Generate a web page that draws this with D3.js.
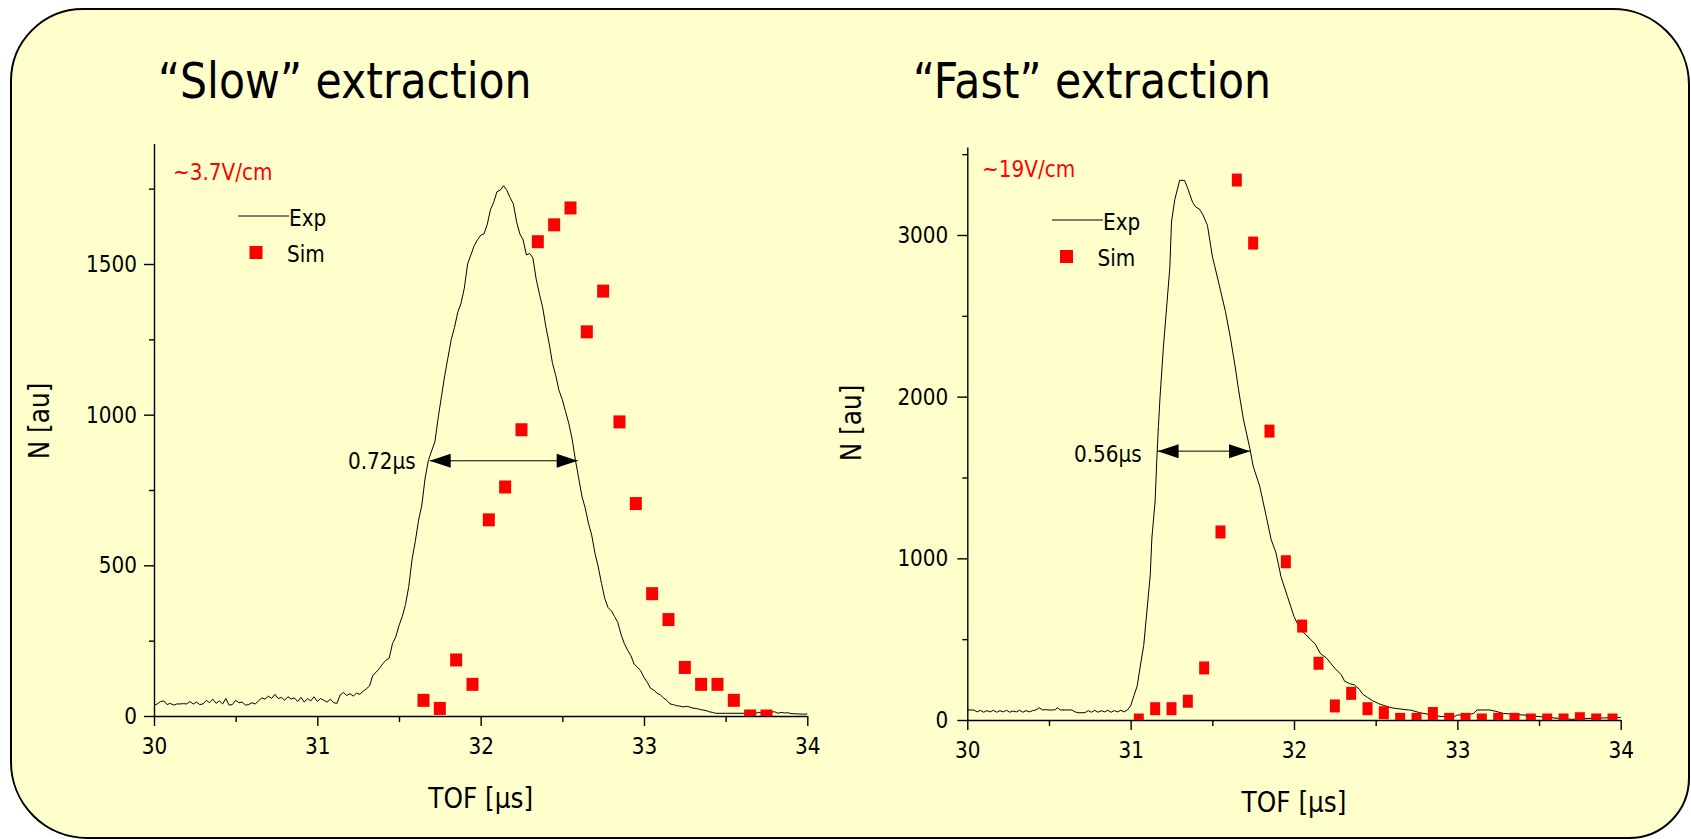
<!DOCTYPE html>
<html>
<head>
<meta charset="utf-8">
<script src="https://cdn.jsdelivr.net/npm/d3@7/dist/d3.min.js"></script>
<style>
  body { margin: 0; background: #fff; }
  text { font-family: "DejaVu Sans", sans-serif; }
</style>
</head>
<body>
<script>

// ---- data ----
const tofTicks = [30, 31, 32, 33, 34];
const tofMinor = [30.5, 31.5, 32.5, 33.5];

const slowTicks = [0, 500, 1000, 1500];
const slowMinor = [250, 750, 1250, 1750];
const fastTicks = [0, 1000, 2000, 3000];
const fastMinor = [500, 1500, 2500, 3500];

const slowSimTof = [31.65, 31.75, 31.85, 31.95, 32.05, 32.15, 32.25, 32.35, 32.45, 32.55, 32.65,
                    32.75, 32.85, 32.95, 33.05, 33.15, 33.25, 33.35, 33.45, 33.55, 33.65, 33.75];
const slowSimN = [52, 25, 186, 105, 651, 760, 950, 1574, 1630, 1686, 1275,
                  1410, 976, 705, 406, 320, 161, 105, 105, 52, 0, 0];

const fastSimTof = [31.05, 31.15, 31.25, 31.35, 31.45, 31.55, 31.65, 31.75, 31.85, 31.95,
                    32.05, 32.15, 32.25, 32.35, 32.45, 32.55, 32.65, 32.75, 32.85, 32.95,
                    33.05, 33.15, 33.25, 33.35, 33.45, 33.55, 33.65, 33.75, 33.85, 33.95];
const fastSimN = [0, 70, 70, 116, 322, 1163, 3340, 2950, 1787, 979,
                  581, 351, 87, 165, 70, 45, 4, 4, 40, 4,
                  4, 0, 4, 4, 0, 0, 0, 8, 0, 0];

// [TOF, N] of the measured trace
const slowExp = [[30.00,36],[30.02,40],[30.04,48],[30.06,50],[30.08,38],[30.10,42],[30.12,36],[30.14,40],
  [30.16,40],[30.18,41],[30.20,40],[30.22,48],[30.24,40],[30.26,46],[30.28,38],[30.30,40],[30.32,52],
  [30.34,44],[30.36,56],[30.38,42],[30.40,50],[30.42,40],[30.44,58],[30.46,36],[30.48,38],[30.50,52],
  [30.52,44],[30.54,46],[30.56,36],[30.58,38],[30.60,44],[30.62,40],[30.64,50],[30.66,60],[30.68,56],
  [30.70,66],[30.72,58],[30.74,72],[30.76,58],[30.78,62],[30.80,52],[30.82,64],[30.84,56],[30.86,60],
  [30.88,48],[30.90,62],[30.92,46],[30.94,58],[30.96,50],[30.98,64],[31.00,48],[31.02,58],[31.04,52],
  [31.06,46],[31.08,56],[31.10,44],[31.12,42],[31.14,70],[31.16,78],[31.18,68],[31.20,74],[31.22,66],
  [31.24,76],[31.26,72],[31.28,82],[31.30,90],[31.32,100],[31.34,135],[31.36,145],[31.38,158],[31.40,173],
  [31.42,185],[31.44,192],[31.46,240],[31.48,262],[31.50,300],[31.52,330],[31.54,370],[31.56,430],
  [31.58,520],[31.60,580],[31.62,650],[31.64,700],[31.66,790],[31.68,848],[31.70,880],[31.72,910],
  [31.74,990],[31.76,1060],[31.78,1130],[31.80,1190],[31.82,1250],[31.84,1290],[31.86,1340],[31.88,1370],
  [31.90,1420],[31.92,1500],[31.94,1530],[31.96,1560],[31.98,1580],[32.00,1595],[32.02,1600],[32.04,1630],
  [32.06,1680],[32.08,1705],[32.10,1740],[32.12,1745],[32.14,1760],[32.16,1745],[32.18,1720],[32.20,1700],
  [32.22,1640],[32.24,1600],[32.26,1580],[32.28,1530],[32.30,1535],[32.32,1520],[32.34,1450],[32.36,1400],
  [32.38,1355],[32.40,1290],[32.42,1235],[32.44,1170],[32.46,1130],[32.48,1080],[32.50,1050],[32.52,1010],
  [32.54,970],[32.56,920],[32.58,850],[32.60,790],[32.62,730],[32.64,690],[32.66,640],[32.68,600],
  [32.70,540],[32.72,495],[32.74,440],[32.76,390],[32.78,360],[32.80,349],[32.82,330],[32.84,310],
  [32.86,270],[32.88,240],[32.90,218],[32.92,200],[32.94,172],[32.96,162],[32.98,150],[33.00,128],
  [33.02,112],[33.04,92],[33.06,86],[33.08,76],[33.10,70],[33.12,60],[33.14,52],[33.16,40],[33.18,38],
  [33.20,34],[33.22,33],[33.24,30],[33.26,32],[33.28,30],[33.30,26],[33.32,25],[33.34,22],[33.36,20],
  [33.38,18],[33.40,14],[33.42,12],[33.44,9],[33.50,9],[33.64,9],[33.66,12],[33.68,8],[33.70,12],
  [33.72,10],[33.74,14],[33.76,10],[33.78,13],[33.80,14],[33.82,9],[33.84,12],[33.86,10],[33.88,11],
  [33.90,8],[33.94,7],[33.98,6],[34.00,7]];

const fastExp = [[30.00,62],[30.04,62],[30.06,50],[30.08,60],[30.10,48],[30.12,58],[30.14,50],[30.16,60],
  [30.18,48],[30.20,58],[30.22,50],[30.24,60],[30.26,48],[30.28,56],[30.30,50],[30.32,60],[30.34,48],
  [30.36,58],[30.38,50],[30.40,58],[30.42,62],[30.44,76],[30.46,62],[30.48,64],[30.50,62],[30.52,62],
  [30.54,64],[30.55,76],[30.57,62],[30.60,62],[30.64,62],[30.66,50],[30.68,45],[30.72,45],[30.74,58],
  [30.76,48],[30.78,60],[30.80,48],[30.82,58],[30.84,50],[30.86,60],[30.88,48],[30.90,58],[30.92,50],
  [30.94,60],[30.96,50],[30.98,62],[31.00,87],[31.02,150],[31.04,210],[31.06,340],[31.08,460],[31.10,680],
  [31.12,896],[31.13,1126],[31.15,1356],[31.16,1609],[31.17,1816],[31.18,2000],[31.20,2300],[31.22,2550],
  [31.24,2800],[31.25,3080],[31.27,3218],[31.30,3338],[31.33,3338],[31.35,3287],[31.38,3200],[31.40,3172],
  [31.42,3161],[31.44,3130],[31.47,3060],[31.50,2870],[31.54,2700],[31.58,2528],[31.61,2368],[31.64,2184],
  [31.66,2046],[31.69,1862],[31.73,1678],[31.75,1570],[31.79,1446],[31.83,1260],[31.86,1116],[31.89,1033],
  [31.92,888],[31.96,764],[32.00,640],[32.04,558],[32.07,530],[32.10,500],[32.13,470],[32.16,413],
  [32.20,382],[32.25,320],[32.29,279],[32.31,240],[32.34,225],[32.37,217],[32.40,190],[32.42,160],
  [32.45,140],[32.48,120],[32.52,100],[32.55,90],[32.60,75],[32.62,72],[32.70,62],[32.72,60],[32.77,45],
  [32.85,31],[32.88,25],[32.90,21],[32.98,21],[33.00,31],[33.06,31],[33.10,41],[33.12,62],[33.20,62],
  [33.23,55],[33.28,41],[33.35,35],[33.40,31],[33.45,28],[33.50,21],[33.56,16],[33.62,10],[33.66,8],
  [33.70,4],[33.75,6],[33.80,10],[33.85,10],[33.90,13],[34.00,16]];

// width arrows: [from TOF, to TOF, at N]
const slowFwhm = [31.688, 32.594, 847];
const fastFwhm = [31.165, 31.731, 1663];

// ---- layout ----
const w = 1691;
const h = 839;
const squeeze = 0.87;

const svg = d3.select("body")
    .append("svg")
    .attr("width", w)
    .attr("height", h);

// rounded slide frame
let frame = d3.path();
const fl = 11, ft = 9, fr = 1689, fb = 838;
frame.moveTo(fl + 72, ft);
frame.lineTo(fr - 76, ft);
frame.arcTo(fr, ft, fr, ft + 76, 76);
frame.lineTo(fr, fb - 60);
frame.arcTo(fr, fb, fr - 60, fb, 60);
frame.lineTo(fl + 76, fb);
frame.arcTo(fl, fb, fl, fb - 76, 76);
frame.lineTo(fl, ft + 72);
frame.arcTo(fl, ft, fl + 72, ft, 72);
frame.closePath();

svg.append("path")
    .attr("d", frame.toString())
    .attr("fill", "#ffffcc")
    .attr("stroke", "#000")
    .attr("stroke-width", 2);

function addText(g, x, y, str, size, color, anchor) {
    return g.append("text")
        .attr("transform", `translate(${x},${y}) scale(${squeeze},1)`)
        .attr("font-size", size)
        .attr("fill", color || "#000")
        .attr("text-anchor", anchor || "start")
        .text(str);
}

function squeezeTicks(g) {
    g.selectAll(".tick text").each(function() {
        const t = d3.select(this);
        const tx = +t.attr("x") || 0;
        const ty = +t.attr("y") || 0;
        t.attr("x", null).attr("y", null)
            .attr("transform", `translate(${tx},${ty}) scale(${squeeze},1)`);
    });
}

function drawPanel(p) {
    const g = svg.append("g");

    let x = d3.scaleLinear().domain([30, 34]).range([p.left, p.right]);
    let y = d3.scaleLinear().domain([0, p.yMax]).range([p.base, p.base - p.yMax * p.yPx]);

    // title and field strength
    addText(g, p.titleX, 98, p.title, 49);
    addText(g, p.fieldX, p.fieldY, p.field, 23, "#ff0000");

    // minor ticks
    g.append("g")
        .attr("transform", `translate(0,${p.base})`)
        .call(d3.axisBottom(x).tickValues(tofMinor).tickSize(6).tickFormat(""))
        .call(a => a.select(".domain").remove());
    g.append("g")
        .attr("transform", `translate(${p.left},0)`)
        .call(d3.axisLeft(y).tickValues(p.yMinor).tickSize(5).tickFormat(""))
        .call(a => a.select(".domain").remove());

    let xAxis = g.append("g")
        .attr("transform", `translate(0,${p.base})`)
        .call(d3.axisBottom(x).tickValues(tofTicks).tickFormat(d3.format("d"))
            .tickSize(10).tickSizeOuter(0).tickPadding(12));
    let yAxis = g.append("g")
        .attr("transform", `translate(${p.left},0)`)
        .call(d3.axisLeft(y).tickValues(p.yTicks).tickFormat(d3.format("d"))
            .tickSize(10).tickSizeOuter(0).tickPadding(p.yPad));

    g.selectAll("path.domain, .tick line")
        .attr("stroke", "#000")
        .attr("stroke-width", 1.4);
    [xAxis, yAxis].forEach(a => {
        a.attr("font-family", null).attr("font-size", 23);
        a.selectAll("text").attr("fill", "#000");
        squeezeTicks(a);
    });

    // axis titles
    addText(g, x(32), p.base + 92, "TOF [\u03bcs]", 28.5, "#000", "middle");
    g.append("text")
        .attr("transform", `translate(${p.yLabelX},${p.yLabelY}) rotate(-90) scale(${squeeze},1)`)
        .attr("font-size", 28.5)
        .attr("text-anchor", "middle")
        .text("N [au]");

    // measured trace
    let line = d3.line()
        .x(d => x(d[0]))
        .y(d => y(d[1]));

    g.append("path")
        .datum(p.exp)
        .attr("fill", "none")
        .attr("stroke", "#000")
        .attr("stroke-width", 1)
        .attr("d", line);

    // simulation squares, clipped at the axis
    g.append("clipPath")
        .attr("id", p.id + "-clip")
        .append("rect")
        .attr("x", p.left)
        .attr("y", y(p.yMax))
        .attr("width", p.right - p.left + 10)
        .attr("height", p.base - y(p.yMax));

    g.append("g")
        .attr("clip-path", `url(#${p.id}-clip)`)
        .selectAll("rect")
        .data(p.simTof)
        .enter().append("rect")
        .attr("x", d => x(d) - p.mw / 2)
        .attr("y", (d, i) => y(p.simN[i]) - 6.5)
        .attr("width", p.mw)
        .attr("height", 13)
        .attr("fill", "#ff0000");

    // width arrow
    const ax1 = x(p.fwhm[0]), ax2 = x(p.fwhm[1]), ay = y(p.fwhm[2]);
    g.append("line")
        .attr("x1", ax1).attr("x2", ax2)
        .attr("y1", ay).attr("y2", ay)
        .attr("stroke", "#000")
        .attr("stroke-width", 1);
    g.append("path")
        .attr("d", `M${ax1},${ay}L${ax1 + 21},${ay - 7}L${ax1 + 21},${ay + 7}Z`
                 + `M${ax2},${ay}L${ax2 - 21},${ay - 7}L${ax2 - 21},${ay + 7}Z`)
        .attr("fill", "#000");
    addText(g, p.widthX, p.widthY, p.width, 23);

    // legend
    g.append("line")
        .attr("x1", p.legX).attr("x2", p.legX + 51)
        .attr("y1", p.legY).attr("y2", p.legY)
        .attr("stroke", "#000")
        .attr("stroke-width", 1);
    addText(g, p.legX + 51, p.legY + 10, "Exp", 23);
    g.append("rect")
        .attr("x", p.sqX - 6.5)
        .attr("y", p.legY + 30)
        .attr("width", 13)
        .attr("height", 13)
        .attr("fill", "#ff0000");
    addText(g, p.sqX + 31, p.legY + 46, "Sim", 23);
}

drawPanel({
    id: "slow", title: "\u201cSlow\u201d extraction", titleX: 158,
    field: "~3.7V/cm", fieldX: 173, fieldY: 180,
    left: 154, right: 807.3, base: 716, yMax: 1900, yPx: 0.30133,
    yTicks: slowTicks, yMinor: slowMinor, yPad: 7,
    yLabelX: 49, yLabelY: 421,
    exp: slowExp, simTof: slowSimTof, simN: slowSimN, mw: 12,
    fwhm: slowFwhm, width: "0.72\u03bcs", widthX: 348, widthY: 469,
    legX: 238, legY: 216, sqX: 256
});

drawPanel({
    id: "fast", title: "\u201cFast\u201d extraction", titleX: 913,
    field: "~19V/cm", fieldX: 982, fieldY: 177,
    left: 967.3, right: 1620.7, base: 720, yMax: 3544, yPx: 0.16167,
    yTicks: fastTicks, yMinor: fastMinor, yPad: 9,
    yLabelX: 861, yLabelY: 423,
    exp: fastExp, simTof: fastSimTof, simN: fastSimN, mw: 10,
    fwhm: fastFwhm, width: "0.56\u03bcs", widthX: 1074, widthY: 462,
    legX: 1052, legY: 220, sqX: 1066.5
});

</script>
</body>
</html>
